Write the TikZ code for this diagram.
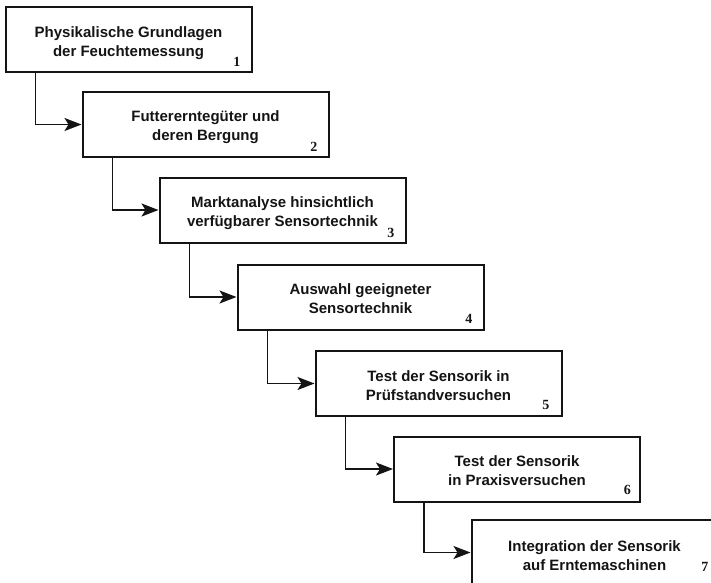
\documentclass[tikz,border=0pt]{standalone}
\usepackage{fontspec}
\setmainfont{Liberation Sans}
\newfontfamily\numfont{Liberation Serif}
\usetikzlibrary{arrows.meta}
\definecolor{myink}{rgb}{0.08,0.08,0.08}

\begin{document}
\begin{tikzpicture}[x=1pt,y=-1pt,
  stagebox/.style={draw=myink,line width=2pt,minimum width=246pt,minimum height=65pt,inner sep=0pt},
  stagetext/.style={align=center,inner sep=0pt,text=myink,font=\bfseries\fontsize{15}{19}\selectfont},
  stagenum/.style={anchor=base east,inner sep=0pt,text=myink,
    font=\numfont\bfseries\fontsize{14}{14}\selectfont},
  conn/.style={draw=myink,line width=1.8pt,-{Stealth[length=17pt,width=13pt,inset=4pt]}}]
  \useasboundingbox (0,0) rectangle (711,582);
  \clip (0,0) rectangle (711,582);
  % the seven work steps, each one shifted down and to the right
  \node[stagebox] (b1) at (128.5,39.5) {};
  \node[stagebox] (b2) at (205.5,124.5) {};
  \node[stagebox] (b3) at (282.5,210) {};
  \node[stagebox] (b4) at (360.5,297) {};
  \node[stagebox] (b5) at (438.5,383.5) {};
  \node[stagebox] (b6) at (517,469) {};
  \node[stagebox] (b7) at (594.5,552.5) {};
  % their texts, set a little below the middle
  \node[stagetext] (t1) at ([yshift=-4pt]b1.center) {Physikalische Grundlagen\\der Feuchtemessung};
  \node[stagetext] (t2) at ([yshift=-3pt]b2.center) {Futtererntegüter und\\deren Bergung};
  \node[stagetext] (t3) at ([yshift=-3pt]b3.center) {Marktanalyse hinsichtlich\\verfügbarer Sensortechnik};
  \node[stagetext] (t4) at ([yshift=-2pt]b4.center) {Auswahl geeigneter\\Sensortechnik};
  \node[stagetext] (t5) at ([yshift=-2pt]b5.center) {Test der Sensorik in\\Prüfstandversuchen};
  \node[stagetext] (t6) at ([yshift=-2pt]b6.center) {Test der Sensorik\\in Praxisversuchen};
  \node[stagetext] (t7) at ([yshift=-3pt]b7.center) {Integration der Sensorik\\auf Erntemaschinen};
  % step numbers in the lower right corners
  \node[stagenum] (n1) at ([xshift=-12pt,yshift=7pt]b1.south east) {1};
  \node[stagenum] (n2) at ([xshift=-12pt,yshift=7pt]b2.south east) {2};
  \node[stagenum] (n3) at ([xshift=-12pt,yshift=6pt]b3.south east) {3};
  \node[stagenum] (n4) at ([xshift=-12pt,yshift=7pt]b4.south east) {4};
  \node[stagenum] (n5) at ([xshift=-13pt,yshift=8pt]b5.south east) {5};
  \node[stagenum] (n6) at ([xshift=-10pt,yshift=8pt]b6.south east) {6};
  \node[stagenum] (n7) at ([xshift=-10pt,yshift=15pt]b7.south east) {7};
  % elbow connectors from one step to the next
  \draw[conn] ([xshift=31pt]b1.south west) |- (b2.west);
  \draw[conn] ([xshift=31pt]b2.south west) |- (b3.west);
  \draw[conn] ([xshift=31pt]b3.south west) |- (b4.west);
  \draw[conn] ([xshift=31pt]b4.south west) |- (b5.west);
  \draw[conn] ([xshift=31pt]b5.south west) |- (b6.west);
  \draw[conn] ([xshift=31pt]b6.south west) |- (b7.west);
\end{tikzpicture}
\end{document}
